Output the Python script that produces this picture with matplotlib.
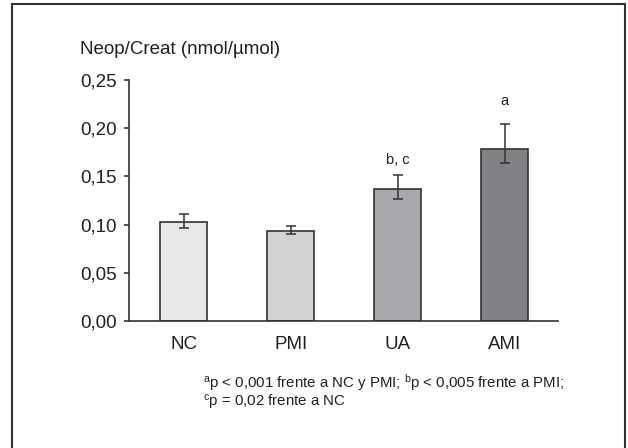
import matplotlib
matplotlib.use("Agg")
import matplotlib.pyplot as plt
from matplotlib.patches import Rectangle

plt.rcParams['font.family'] = ['Liberation Sans', 'DejaVu Sans']
plt.rcParams['mathtext.fontset'] = 'custom'
plt.rcParams['mathtext.rm'] = 'Liberation Sans'
plt.rcParams['mathtext.it'] = 'Liberation Sans'

# data
groups = ["NC", "PMI", "UA", "AMI"]
values = [0.1027, 0.0934, 0.1373, 0.178]
err_low = [0.0067, 0.0028, 0.0103, 0.014]
err_high = [0.0083, 0.0051, 0.0146, 0.0267]
bar_colors = ["#e6e7e8", "#d1d2d4", "#a7a9ac", "#808285"]
sig_labels = ["", "", "b, c", "a"]
sig_y = [0, 0, 0.1667, 0.228]
yticks = [0.0, 0.05, 0.10, 0.15, 0.20, 0.25]
ytick_labels = ["0,00", "0,05", "0,10", "0,15", "0,20", "0,25"]
foot_lines = ["$^{\\mathrm{a}}$p < 0,001 frente a NC y PMI; $^{\\mathrm{b}}$p < 0,005 frente a PMI;",
              "$^{\\mathrm{c}}$p = 0,02 frente a NC"]

ink = "#231f20"
fig = plt.figure(figsize=(6.28, 4.48), dpi=100)
ax = fig.add_axes([129 / 628, 1 - 321 / 448, (558 - 129) / 628, (321 - 80) / 448])

x = list(range(len(groups)))
ax.bar(x, values, width=0.44, color=bar_colors, edgecolor="#333333", linewidth=1.2,
       yerr=[err_low, err_high], capsize=3.6,
       error_kw=dict(ecolor="#333333", elinewidth=1.1, capthick=1.1))

for xi, lab, yy in zip(x, sig_labels, sig_y):
    if lab:
        ax.text(xi, yy, lab, ha="center", va="center", fontsize=10.5, color=ink)

ax.set_xlim(-0.514, 3.5)
ax.set_ylim(0, 0.25)
ax.set_yticks(yticks)
ax.set_yticklabels(ytick_labels)
ax.set_xticks(x)
ax.set_xticklabels(groups)
ax.tick_params(axis="y", length=3.6, width=1.1, pad=5, labelsize=13.5, colors=ink)
ax.tick_params(axis="x", length=0, pad=11, labelsize=13.5, colors=ink)
for s in ["top", "right"]:
    ax.spines[s].set_visible(False)
for s in ["left", "bottom"]:
    ax.spines[s].set_linewidth(1.2)
    ax.spines[s].set_color("#333333")

fig.text(80 / 628, 1 - 50 / 448, "Neop/Creat (nmol/\u00b5mol)", ha="left", va="center",
         fontsize=13.5, color=ink)

# footnote, two lines
fig.text(203 / 628, 1 - 388 / 448, foot_lines[0], ha="left", va="baseline",
         fontsize=10.8, color=ink)
fig.text(203 / 628, 1 - 407 / 448, foot_lines[1], ha="left", va="baseline",
         fontsize=10.8, color=ink)

# outer frame
fig.patches.append(Rectangle((12 / 628, -0.05), (625 - 12) / 628, 1.05 - 4 / 448,
                             transform=fig.transFigure, fill=False,
                             edgecolor="#333333", linewidth=1.5))

fig.savefig("out.png", dpi=100)
